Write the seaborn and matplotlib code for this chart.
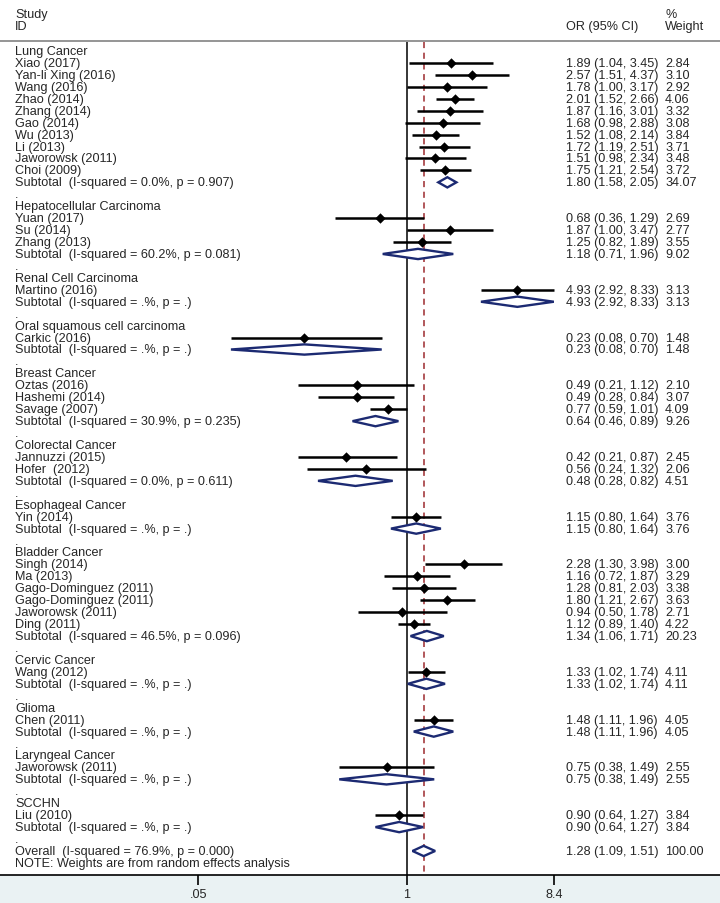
import numpy as np
import pandas as pd
import matplotlib
matplotlib.use("Agg")
import matplotlib.pyplot as plt
import matplotlib.transforms as mtransforms
import seaborn as sns

# ---- data ----
group_names = ["Lung Cancer", "Hepatocellular Carcinoma", "Renal Cell Carcinoma",
               "Oral squamous cell carcinoma", "Breast Cancer", "Colorectal Cancer",
               "Esophageal Cancer", "Bladder Cancer", "Cervic Cancer", "Glioma",
               "Laryngeal Cancer", "SCCHN"]

study_names = ["Xiao (2017)", "Yan-li Xing (2016)", "Wang (2016)", "Zhao (2014)",
               "Zhang (2014)", "Gao (2014)", "Wu (2013)", "Li (2013)",
               "Jaworowsk (2011)", "Choi (2009)",
               "Yuan (2017)", "Su (2014)", "Zhang (2013)",
               "Martino (2016)",
               "Carkic (2016)",
               "Oztas (2016)", "Hashemi (2014)", "Savage (2007)",
               "Jannuzzi (2015)", "Hofer  (2012)",
               "Yin (2014)",
               "Singh (2014)", "Ma (2013)", "Gago-Dominguez (2011)",
               "Gago-Dominguez (2011)", "Jaworowsk (2011)", "Ding (2011)",
               "Wang (2012)",
               "Chen (2011)",
               "Jaworowsk (2011)",
               "Liu (2010)"]
study_group = [0] * 10 + [1] * 3 + [2] + [3] + [4] * 3 + [5] * 2 + [6] + [7] * 6 + [8] + [9] + [10] + [11]
study_or = [1.89, 2.57, 1.78, 2.01, 1.87, 1.68, 1.52, 1.72, 1.51, 1.75,
            0.68, 1.87, 1.25, 4.93, 0.23, 0.49, 0.49, 0.77, 0.42, 0.56, 1.15,
            2.28, 1.16, 1.28, 1.80, 0.94, 1.12, 1.33, 1.48, 0.75, 0.90]
study_lo = [1.04, 1.51, 1.00, 1.52, 1.16, 0.98, 1.08, 1.19, 0.98, 1.21,
            0.36, 1.00, 0.82, 2.92, 0.08, 0.21, 0.28, 0.59, 0.21, 0.24, 0.80,
            1.30, 0.72, 0.81, 1.21, 0.50, 0.89, 1.02, 1.11, 0.38, 0.64]
study_hi = [3.45, 4.37, 3.17, 2.66, 3.01, 2.88, 2.14, 2.51, 2.34, 2.54,
            1.29, 3.47, 1.89, 8.33, 0.70, 1.12, 0.84, 1.01, 0.87, 1.32, 1.64,
            3.98, 1.87, 2.03, 2.67, 1.78, 1.40, 1.74, 1.96, 1.49, 1.27]
study_wt = [2.84, 3.10, 2.92, 4.06, 3.32, 3.08, 3.84, 3.71, 3.48, 3.72,
            2.69, 2.77, 3.55, 3.13, 1.48, 2.10, 3.07, 4.09, 2.45, 2.06, 3.76,
            3.00, 3.29, 3.38, 3.63, 2.71, 4.22, 4.11, 4.05, 2.55, 3.84]

sub_i2 = ["0.0%", "60.2%", ".%", ".%", "30.9%", "0.0%", ".%", "46.5%", ".%", ".%", ".%", ".%"]
sub_p = ["0.907", "0.081", ".", ".", "0.235", "0.611", ".", "0.096", ".", ".", ".", "."]
sub_or = [1.80, 1.18, 4.93, 0.23, 0.64, 0.48, 1.15, 1.34, 1.33, 1.48, 0.75, 0.90]
sub_lo = [1.58, 0.71, 2.92, 0.08, 0.46, 0.28, 0.80, 1.06, 1.02, 1.11, 0.38, 0.64]
sub_hi = [2.05, 1.96, 8.33, 0.70, 0.89, 0.82, 1.64, 1.71, 1.74, 1.96, 1.49, 1.27]
sub_wt = [34.07, 9.02, 3.13, 1.48, 9.26, 4.51, 3.76, 20.23, 4.11, 4.05, 2.55, 3.84]

overall = dict(OR=1.28, lo=1.09, hi=1.51, wt=100.00, i2="76.9%", p="0.000")
tick_vals = [0.05, 1, 8.4]
tick_labels = [".05", "1", "8.4"]

# ---- build the row table ----
rows = []
r = 0
for g, name in enumerate(group_names):
    rows.append(dict(row=r, kind="group", label=name))
    r += 1
    for i, sg in enumerate(study_group):
        if sg == g:
            rows.append(dict(row=r, kind="study", label=study_names[i], OR=study_or[i],
                             lo=study_lo[i], hi=study_hi[i], wt=study_wt[i]))
            r += 1
    rows.append(dict(row=r, kind="sub", label=f"Subtotal  (I-squared = {sub_i2[g]}, p = {sub_p[g]})",
                     OR=sub_or[g], lo=sub_lo[g], hi=sub_hi[g], wt=sub_wt[g]))
    r += 1
    rows.append(dict(row=r, kind="blank", label="."))
    r += 1
rows.append(dict(row=r, kind="sub", label=f"Overall  (I-squared = {overall['i2']}, p = {overall['p']})",
                 OR=overall["OR"], lo=overall["lo"], hi=overall["hi"], wt=overall["wt"]))
r += 1
rows.append(dict(row=r, kind="note", label="NOTE: Weights are from random effects analysis"))
df = pd.DataFrame(rows)

# ---- figure ----
sns.set_style("white")
plt.rcParams["font.family"] = ["Liberation Sans", "DejaVu Sans"]
FS = 9.1

W, H = 720, 904
fig = plt.figure(figsize=(W / 100, H / 100), dpi=100)
fig.patch.set_facecolor("#eaf2f3")
axis_px = 876
ax = fig.add_axes([0, (H - axis_px) / H, 1, axis_px / H])
ax.set_facecolor("white")

row0_px, row_h = 52, 11.94
ax.set_xscale("log")
px_per_ln, one_px = 69.5, 406.5
ax.set_xlim(np.exp(-one_px / px_per_ln), np.exp((W - one_px) / px_per_ln))
ax.set_ylim((axis_px - row0_px) / row_h, -row0_px / row_h)

def yrow(px):
    return (px - row0_px) / row_h

trans = mtransforms.blended_transform_factory(ax.transAxes, ax.transData)
lab_x, or_x, wt_x = 15 / W, 566 / W, 665 / W

# header
ax.text(lab_x, yrow(15), "Study", transform=trans, fontsize=FS, va="center")
ax.text(lab_x, yrow(27), "ID", transform=trans, fontsize=FS, va="center")
ax.text(or_x, yrow(27), "OR (95% CI)", transform=trans, fontsize=FS, va="center")
ax.text(wt_x, yrow(15), "%", transform=trans, fontsize=FS, va="center")
ax.text(wt_x, yrow(27), "Weight", transform=trans, fontsize=FS, va="center")
ax.axhline(yrow(42), color="#8c8c8c", lw=1.3)

# reference lines
ytop = yrow(43)
ybot = ax.get_ylim()[0]
ax.vlines(1, ytop, ybot, color="black", lw=1.1)
ax.vlines(overall["OR"], ytop, ybot, color="#9c2a2e", lw=1.1, linestyles=(0, (4, 3)))

# studies
st = df[df.kind == "study"]
ax.hlines(st.row, st.lo, st.hi, color="black", lw=1.8, zorder=3)
sns.scatterplot(data=st, x="OR", y="row", marker="D", color="black", s=28,
                edgecolor="black", linewidth=0, ax=ax, zorder=4, legend=False)

# diamonds for subtotals and overall
sb = df[df.kind == "sub"]
hh = 0.43
for _, s in sb.iterrows():
    ax.fill([s.lo, s.OR, s.hi, s.OR, s.lo], [s.row, s.row - hh, s.row, s.row + hh, s.row],
            facecolor="white", edgecolor="#1c2a72", lw=1.7, zorder=5)

# text columns
for _, t in df.iterrows():
    ax.text(lab_x, t.row, t.label, transform=trans, fontsize=FS, va="center")
    if t.kind in ("study", "sub"):
        ax.text(or_x, t.row, f"{t.OR:.2f} ({t.lo:.2f}, {t.hi:.2f})", transform=trans,
                fontsize=FS, va="center")
        ax.text(wt_x, t.row, f"{t.wt:.2f}", transform=trans, fontsize=FS, va="center")

ax.set_xticks(tick_vals)
ax.set_xticklabels(tick_labels, fontsize=FS)
ax.xaxis.set_minor_locator(matplotlib.ticker.NullLocator())
ax.tick_params(axis="x", length=7.5, width=1.2, color="black", pad=2, direction="out", bottom=True)
ax.set_yticks([])
ax.set_xlabel("")
ax.set_ylabel("")
for side in ["top", "left", "right"]:
    ax.spines[side].set_visible(False)
ax.spines["bottom"].set_color("black")
ax.spines["bottom"].set_linewidth(1.2)

fig.savefig("out.png", dpi=100, facecolor=fig.get_facecolor())
